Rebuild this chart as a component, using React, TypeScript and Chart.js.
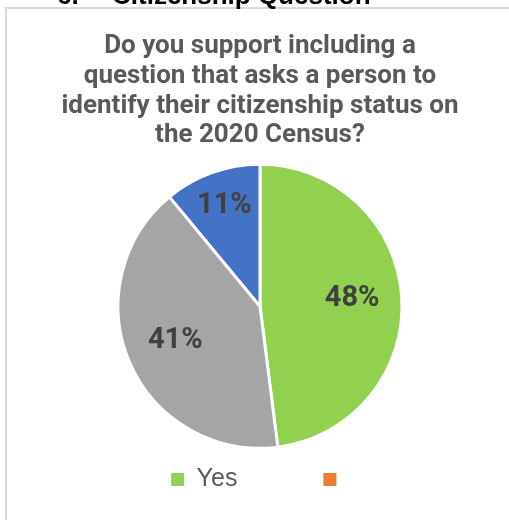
import React, { useEffect, useRef } from "react";
import { Chart, registerables } from "chart.js";

Chart.register(...registerables);

const headerNumber = "6.";
const headerText = "Citizenship Question";
const titleLines = [
  "Do you support including a",
  "question that asks a person to",
  "identify their citizenship status on",
  "the 2020 Census?",
];
const categories = ["Yes", "No", "Not sure"];
const values = [48, 41, 11];
const sliceColors = ["#92D050", "#A5A5A5", "#4472C4"];
const legendLabels = ["Yes", ""];
const legendColors = ["#92D050", "#ED7D31"];

const NARROW = '"Liberation Sans Narrow", "Arial Narrow", Roboto, "Liberation Sans", Arial, sans-serif';
const SANS = '"Liberation Sans", Arial, sans-serif';

const pctLabels = {
  id: "pctLabels",
  afterDatasetsDraw(chart: any) {
    const ctx = chart.ctx;
    const meta = chart.getDatasetMeta(0);
    const total = values.reduce((a, b) => a + b, 0);
    meta.data.forEach((arc: any, i: number) => {
      const p = arc.getProps(["x", "y", "startAngle", "endAngle", "outerRadius"], true);
      const mid = (p.startAngle + p.endAngle) / 2;
      const share = values[i] / total;
      const r = p.outerRadius * (share < 0.15 ? 0.74 : 0.65);
      ctx.save();
      ctx.font = `bold 29px ${NARROW}`;
      ctx.fillStyle = "#404040";
      ctx.textAlign = "center";
      ctx.textBaseline = "middle";
      ctx.fillText(Math.round(share * 100) + "%", p.x + Math.cos(mid) * r, p.y + Math.sin(mid) * r - 2);
      ctx.restore();
    });
  },
};

export default function App() {
  const ref = useRef<HTMLCanvasElement | null>(null);
  useEffect(() => {
    if (!ref.current) return;
    const chart = new Chart(ref.current, {
      type: "pie",
      data: {
        labels: categories,
        datasets: [
          {
            data: values,
            backgroundColor: sliceColors,
            borderColor: "#FFFFFF",
            borderWidth: 3,
            radius: 142,
            clip: false,
          } as any,
        ],
      },
      options: {
        animation: false,
        responsive: false,
        layout: { padding: { left: 11, right: 0, top: 0, bottom: 18 } },
        plugins: {
          tooltip: { enabled: false },
          title: {
            display: true,
            text: titleLines,
            color: "#595959",
            font: { family: NARROW, size: 26, weight: "bold", lineHeight: 1.14 },
            padding: { top: 32, bottom: 81 },
          },
          legend: {
            display: true,
            position: "bottom",
            labels: {
              boxWidth: 13,
              boxHeight: 13,
              padding: 86,
              color: "#595959",
              font: { family: SANS, size: 25 },
              generateLabels: () =>
                legendLabels.map((t, i) => ({
                  text: t,
                  fillStyle: legendColors[i],
                  strokeStyle: legendColors[i],
                  lineWidth: 0,
                  hidden: false,
                  index: i,
                  fontColor: "#595959",
                })),
            },
          },
        },
      } as any,
      plugins: [pctLabels],
    });
    return () => chart.destroy();
  }, []);

  return (
    <div style={{ position: "fixed", left: 0, top: 0, width: 509, height: 520, overflow: "hidden", background: "#FFFFFF" }}>
      <canvas ref={ref} width={509} height={520} style={{ position: "absolute", left: 0, top: 0, width: 509, height: 520 }} />
      <div
        style={{
          position: "absolute",
          left: 5,
          top: 7,
          width: 700,
          height: 700,
          borderLeft: "2px solid #D9D9D9",
          borderTop: "2px solid #D9D9D9",
          pointerEvents: "none",
        }}
      />
      <div
        style={{
          position: "absolute",
          left: 57,
          top: -18.5,
          font: `bold 26px ${SANS}`,
          lineHeight: "26px",
          color: "#000000",
          whiteSpace: "nowrap",
        }}
      >
        {headerNumber}
      </div>
      <div
        style={{
          position: "absolute",
          left: 112,
          top: -18.5,
          font: `bold 26px ${SANS}`,
          lineHeight: "26px",
          color: "#000000",
          whiteSpace: "nowrap",
        }}
      >
        {headerText}
      </div>
    </div>
  );
}
